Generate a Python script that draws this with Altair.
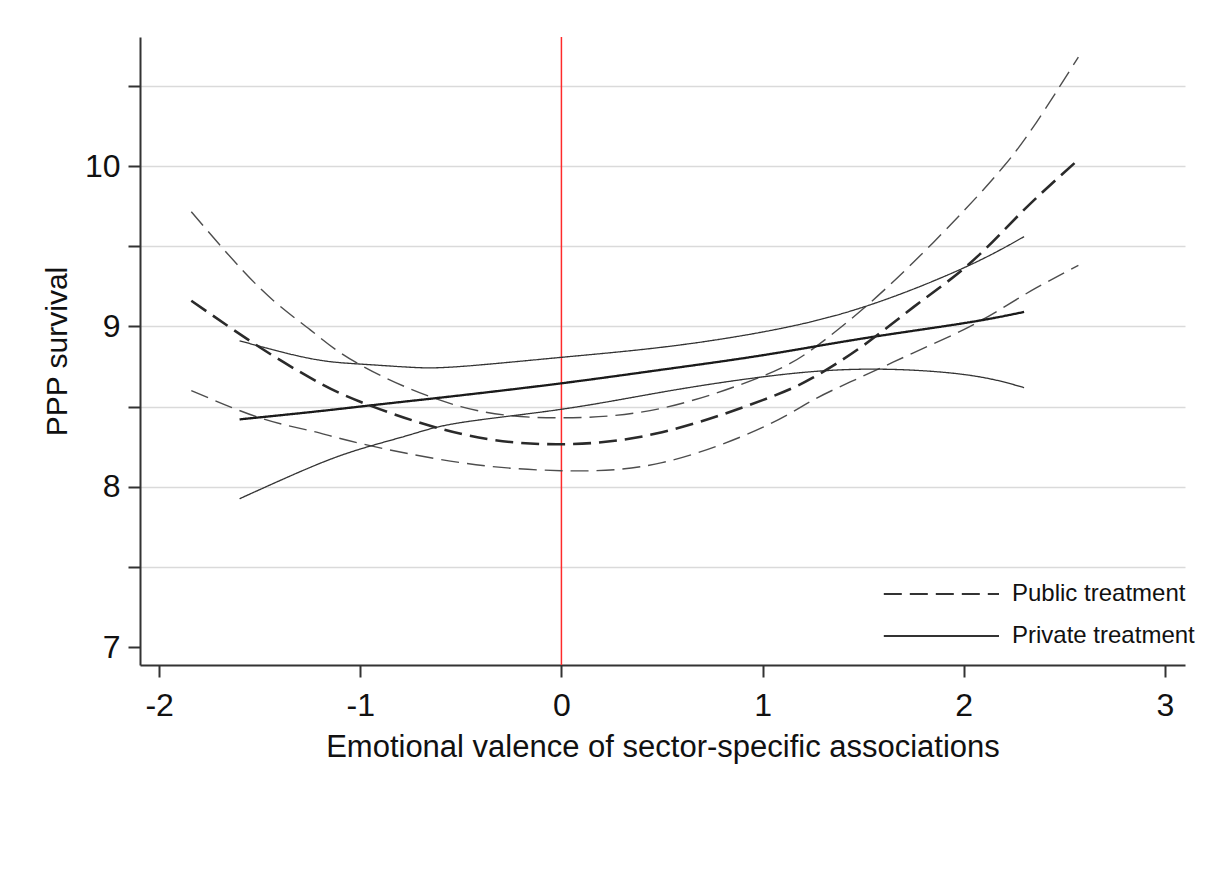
import altair as alt
import pandas as pd

# ---- data ----
pub_x = [-1.84, -1.5, -1.25, -1.0, -0.5, 0.0, 0.5, 1.0, 1.25, 1.5, 1.75, 2.0, 2.2, 2.36, 2.57]
pub_hi = [9.715, 9.24, 8.98, 8.76, 8.50, 8.43, 8.49, 8.69, 8.86, 9.11, 9.40, 9.72, 10.0, 10.27, 10.68]
pub_mid = [9.16, 8.87, 8.68, 8.53, 8.33, 8.265, 8.34, 8.54, 8.68, 8.88, 9.12, 9.36, 9.60, 9.80, 10.04]
pub_lo = [8.60, 8.43, 8.35, 8.27, 8.15, 8.10, 8.15, 8.37, 8.54, 8.69, 8.835, 8.98, 9.12, 9.24, 9.38]

prv_x = [-1.6, -1.25, -1.0, -0.75, -0.5, 0.0, 0.5, 1.0, 1.5, 2.0, 2.3]
prv_hi = [8.91, 8.80, 8.765, 8.745, 8.75, 8.807, 8.87, 8.965, 9.12, 9.365, 9.56]
prv_mid = [8.42, 8.465, 8.50, 8.535, 8.57, 8.645, 8.73, 8.82, 8.925, 9.02, 9.09]
prv_lo = [7.925, 8.12, 8.235, 8.325, 8.40, 8.483, 8.59, 8.685, 8.733, 8.70, 8.618]

treatments = ["Public treatment", "Private treatment"]
x_ticks = [-2, -1, 0, 1, 2, 3]
y_ticks = [7, 7.5, 8, 8.5, 9, 9.5, 10, 10.5]

FONT = "Liberation Sans"

def frame(xs, ys, treat):
    return pd.DataFrame({"x": xs, "y": ys, "treatment": treat})

x_scale = alt.Scale(domain=[-2.095, 3.1], nice=False, zero=False)
y_scale = alt.Scale(domain=[6.888, 10.805], nice=False, zero=False)

x_axis = alt.Axis(
    values=x_ticks, grid=False, tickSize=12, tickWidth=2, tickColor="#333",
    domainColor="#333", domainWidth=2, labelFontSize=32, labelFont=FONT,
    labelColor="#111", labelPadding=13, labelExpr="'' + datum.value",
    title="Emotional valence of sector-specific associations",
    titleFontSize=31, titleFont=FONT, titleFontWeight="normal",
    titleColor="#111", titlePadding=11,
)
y_axis = alt.Axis(
    values=y_ticks, grid=True,
    gridColor={"condition": {"test": "datum.value == 7", "value": "transparent"}, "value": "#dadada"},
    gridWidth=1.3, tickSize=12, tickWidth=2, tickColor="#333",
    domainColor="#333", domainWidth=2, labelFontSize=32, labelFont=FONT,
    labelColor="#111", labelPadding=8,
    labelExpr="datum.value % 1 == 0 ? '' + datum.value : ''",
    title="PPP survival", titleFontSize=30, titleFont=FONT,
    titleFontWeight="normal", titleColor="#111", titlePadding=12,
)

dash_scale = alt.Scale(domain=treatments, range=[[18, 8], [1, 0]])
legend = alt.Legend(
    title=None, orient="none", legendX=834, legendY=544, padding=0,
    symbolType="M-8.6,0H1", symbolSize=576, symbolStrokeWidth=1.8,
    symbolStrokeColor="#333", symbolFillColor="transparent",
    rowPadding=17, labelOffset=12, labelFontSize=24, labelFont=FONT,
    labelColor="#111", labelLimit=400,
)

def curve(df, width, color, show_legend):
    return alt.Chart(df).mark_line(
        strokeWidth=width, color=color, interpolate="natural", clip=True
    ).encode(
        x=alt.X("x:Q", scale=x_scale, axis=x_axis),
        y=alt.Y("y:Q", scale=y_scale, axis=y_axis),
        strokeDash=alt.StrokeDash(
            "treatment:N", scale=dash_scale,
            legend=legend if show_legend else None,
        ),
    )

red = alt.Chart(pd.DataFrame({"x": [0]})).mark_rule(
    color="#ff2a2a", strokeWidth=1.5
).encode(x=alt.X("x:Q", scale=x_scale, axis=x_axis))

layers = [
    red,
    curve(frame(pub_x, pub_hi, treatments[0]), 1.4, "#4d4d4d", True),
    curve(frame(pub_x, pub_lo, treatments[0]), 1.4, "#4d4d4d", True),
    curve(frame(prv_x, prv_hi, treatments[1]), 1.3, "#333333", True),
    curve(frame(prv_x, prv_lo, treatments[1]), 1.3, "#333333", True),
    curve(frame(prv_x, prv_mid, treatments[1]), 2.3, "#1a1a1a", True),
    curve(frame(pub_x, pub_mid, treatments[0]), 2.6, "#2a2a2a", True),
]

chart = alt.layer(*layers).properties(
    width=1045, height=628,
    autosize=alt.AutoSizeParams(type="none"),
    padding={"left": 132, "top": 29, "right": 20, "bottom": 180},
    background="white",
).configure_view(strokeWidth=0)

chart.save("out.html", embed_options={"renderer": "svg", "actions": False})
